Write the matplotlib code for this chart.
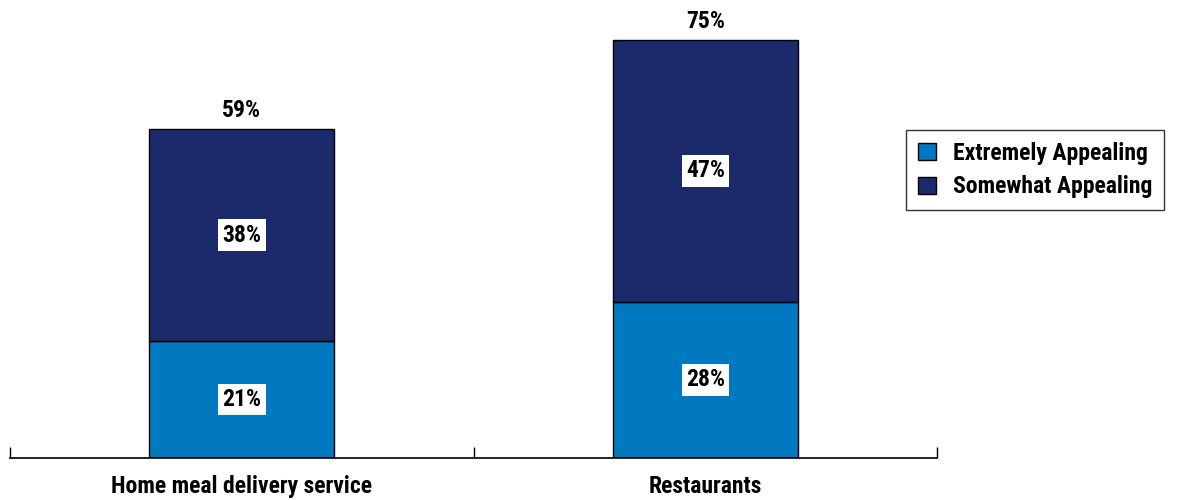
import matplotlib.pyplot as plt
import numpy as np

plt.rcParams['font.family'] = ['Roboto Condensed', 'Barlow Condensed', 'Liberation Sans', 'DejaVu Sans']
plt.rcParams['font.weight'] = 'heavy'

categories = ['Home meal delivery service', 'Restaurants']
extremely = [21, 28]
somewhat = [38, 47]
totals = [59, 75]
series_names = ['Extremely Appealing', 'Somewhat Appealing']

light_blue = '#0079C1'
navy = '#1B2A6B'

fig = plt.figure(figsize=(11.78, 5), dpi=100)
ax = fig.add_axes([10 / 1178, 42 / 500, 927 / 1178, 446 / 500])

x = np.arange(len(categories))
b1 = ax.bar(x, extremely, width=0.4, color=light_blue, edgecolor='black', linewidth=1,
            label=series_names[0])
b2 = ax.bar(x, somewhat, width=0.4, bottom=extremely, color=navy, edgecolor='black',
            linewidth=1, label=series_names[1])

box = dict(facecolor='white', edgecolor='none', pad=3)
for i in range(len(categories)):
    ax.text(x[i], extremely[i] / 2, f'{extremely[i]}%', ha='center', va='center',
            fontsize=17, fontweight='heavy', bbox=box)
    ax.text(x[i], extremely[i] + somewhat[i] / 2, f'{somewhat[i]}%', ha='center',
            va='center', fontsize=17, fontweight='heavy', bbox=box)
    ax.text(x[i], totals[i] + 1.2, f'{totals[i]}%', ha='center', va='bottom',
            fontsize=17, fontweight='heavy')

ax.set_xlim(-0.5, 1.5)
ax.set_ylim(0, 80)
ax.set_yticks([])
ax.set_xticks([-0.5, 0.5, 1.5])
ax.set_xticklabels([])
ax.tick_params(axis='x', direction='in', length=8, width=1, color='black')
for i, c in enumerate(categories):
    ax.text(x[i], -3.0, c, ha='center', va='top', fontsize=17, fontweight='heavy')

for s in ['top', 'right', 'left']:
    ax.spines[s].set_visible(False)
ax.spines['bottom'].set_linewidth(1.2)

leg = fig.legend(handles=[b1, b2], labels=series_names, loc='upper left',
                 bbox_to_anchor=(906 / 1178, 1 - 130 / 500), borderaxespad=0,
                 frameon=True, fancybox=False, edgecolor='black', handlelength=0.75,
                 handleheight=0.75, borderpad=0.5, labelspacing=0.45, handletextpad=0.75,
                 prop={'weight': 'heavy', 'size': 17})
leg.get_frame().set_linewidth(1)

fig.savefig('out.png', dpi=100)
